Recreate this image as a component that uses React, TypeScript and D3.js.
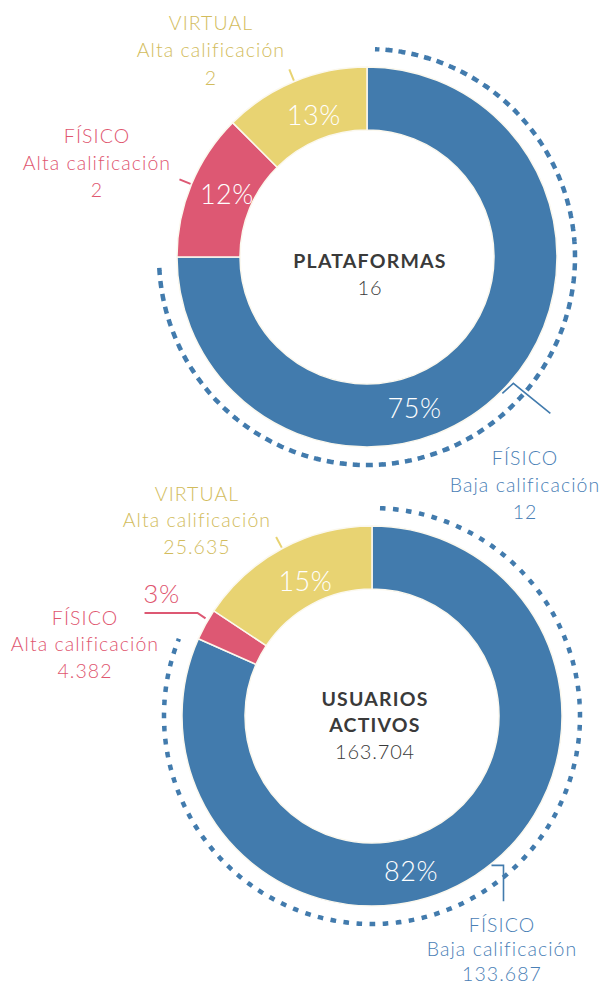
import React from "react";
import * as d3 from "d3";

// ---- data ----
const segmentTypes = ["FÍSICO", "FÍSICO", "VIRTUAL"];
const segmentQualifications = ["Baja calificación", "Alta calificación", "Alta calificación"];
const segmentColors = ["#427bad", "#dd5873", "#e8d372"];
const segmentTextColors = ["#4a80b6", "#e0566f", "#d2bc5c"];

const chartTitles = [["PLATAFORMAS"], ["USUARIOS", "ACTIVOS"]];
const platformValues = [12, 2, 2];
const platformPctLabels = ["75%", "12%", "13%"];
const userValues = [133687, 4382, 25635];
const userPctLabels = ["82%", "3%", "15%"];

const locale = d3.formatLocale({ decimal: ",", thousands: ".", grouping: [3], currency: ["", ""] });
const fmt = locale.format(",d");

// ---- layout ----
const W = 603;
const H = 983;
const OUTER = 190;
const INNER = 127;
const DOT_R = 208;
const FONT = "Lato, 'Open Sans', sans-serif";

type LabelLayout = { dx: number; dy: number; gap: number };
type ChartLayout = {
  cx: number;
  cy: number;
  values: number[];
  pct: string[];
  title: string[];
  titleY: number;
  labels: LabelLayout[];
  pctAngle: (number | null)[];
  pctRadius: number[];
  leaders: ([number, number][] | null)[];
  ticks: boolean[];
  outsidePct: ({ dx: number; dy: number } | null)[];
};

const charts: ChartLayout[] = [
  {
    cx: 367,
    cy: 257,
    values: platformValues,
    pct: platformPctLabels,
    title: chartTitles[0],
    titleY: 3,
    labels: [
      { dx: 158, dy: 200, gap: 27 },
      { dx: -270, dy: -122, gap: 27 },
      { dx: -156, dy: -235, gap: 27.5 },
    ],
    pctAngle: [162.5, null, null],
    pctRadius: [158, 154, 152],
    leaders: [[[1, 2], [12, -8], [49, 22]], null, null],
    ticks: [false, true, true],
    outsidePct: [null, null, null],
  },
  {
    cx: 372,
    cy: 716,
    values: userValues,
    pct: userPctLabels,
    title: chartTitles[1],
    titleY: -18,
    labels: [
      { dx: 130, dy: 208, gap: 24.5 },
      { dx: -287, dy: -99, gap: 26.5 },
      { dx: -175, dy: -223, gap: 26.5 },
    ],
    pctAngle: [165.8, null, null],
    pctRadius: [159, 154, 151],
    leaders: [[[16, -10], [28, -10], [28, 26]], [[0, -6], [-8, -11.5], [-61, -11.5]], null],
    ticks: [false, false, true],
    outsidePct: [null, { dx: 17, dy: -20 }, null],
  },
];

const polar = (cx: number, cy: number, r: number, a: number): [number, number] => [
  cx + r * Math.sin(a),
  cy - r * Math.cos(a),
];

function Donut({ c }: { c: ChartLayout }) {
  const pie = d3.pie<number>().sort(null).value((d) => d);
  const arcs = pie(c.values);
  const arc = d3.arc<d3.PieArcDatum<number>>().innerRadius(INNER).outerRadius(OUTER);
  const total = d3.sum(c.values);
  const blue = arcs[0];
  const pad = (2.2 * Math.PI) / 180;
  const dotArc = d3
    .arc<any>()
    .innerRadius(DOT_R)
    .outerRadius(DOT_R)
    .startAngle(blue.startAngle + pad)
    .endAngle(blue.endAngle - pad)({} as any) as string;

  return (
    <g>
      <g transform={`translate(${c.cx},${c.cy})`}>
        {arcs.map((a, i) => (
          <path key={i} d={arc(a) as string} fill={segmentColors[i]} stroke="#fbf8ee" strokeWidth={1.5} />
        ))}
        <path d={dotArc} fill="none" stroke={segmentColors[0]} strokeWidth={4.5} strokeDasharray="4.5 8.6" />
      </g>
      {arcs.map((a, i) => {
        const mid = (a.startAngle + a.endAngle) / 2;
        const els: React.ReactNode[] = [];
        if (!c.outsidePct[i]) {
          const ang = c.pctAngle[i] != null ? ((c.pctAngle[i] as number) * Math.PI) / 180 : mid + (2 * Math.PI) / 180;
          const [px, py] = polar(c.cx, c.cy, c.pctRadius[i], ang);
          els.push(
            <text key="p" x={px} y={py} textAnchor="middle" dominantBaseline="central" fill="#fff" fontSize={27} fontWeight={300} fontFamily={FONT} letterSpacing={0.5}>
              {c.pct[i]}
            </text>
          );
        }
        if (c.ticks[i]) {
          const [x1, y1] = polar(c.cx, c.cy, OUTER + 1, mid);
          const [x2, y2] = polar(c.cx, c.cy, OUTER + 13, mid);
          els.push(<line key="t" x1={x1} y1={y1} x2={x2} y2={y2} stroke={segmentColors[i]} strokeWidth={2} />);
        }
        const lead = c.leaders[i];
        let endPt: [number, number] | null = null;
        if (lead) {
          const [ax, ay] = polar(c.cx, c.cy, OUTER, mid);
          const pts = lead.map(([dx, dy]) => [ax + dx, ay + dy] as [number, number]);
          endPt = pts[pts.length - 1];
          els.push(
            <path key="l" d={d3.line()(pts) as string} fill="none" stroke={segmentColors[i]} strokeWidth={i === 1 ? 2 : 1.6} />
          );
        }
        const op = c.outsidePct[i];
        if (op && endPt) {
          els.push(
            <text key="op" x={endPt[0] + op.dx} y={endPt[1] + op.dy} textAnchor="middle" dominantBaseline="central" fill={segmentTextColors[i]} fontSize={26} fontWeight={300} fontFamily={FONT} letterSpacing={0.5}>
              {c.pct[i]}
            </text>
          );
        }
        const L = c.labels[i];
        const lx = c.cx + L.dx;
        const ly = c.cy + L.dy;
        const lines = [segmentTypes[i], segmentQualifications[i], fmt(c.values[i])];
        els.push(
          <text key="g" textAnchor="middle" fill={segmentTextColors[i]} fontSize={19.5} fontWeight={300} fontFamily={FONT} letterSpacing={1.05}>
            {lines.map((t, k) => (
              <tspan key={k} x={lx} y={ly + k * L.gap} dominantBaseline="central">
                {t}
              </tspan>
            ))}
          </text>
        );
        return <g key={i}>{els}</g>;
      })}
      <text textAnchor="middle" fontFamily={FONT} fill="#3a3a3a">
        {c.title.map((t, k) => (
          <tspan key={k} x={c.cx + 3} y={c.cy + c.titleY + k * 26} dominantBaseline="central" fontSize={19.5} fontWeight={700} letterSpacing={1.2}>
            {t}
          </tspan>
        ))}
        <tspan x={c.cx + 3} y={c.cy + c.titleY + c.title.length * 26 + 1} dominantBaseline="central" fontSize={20} fontWeight={300} letterSpacing={0.8}>
          {fmt(total)}
        </tspan>
      </text>
    </g>
  );
}

export default function App() {
  return (
    <svg width={W} height={H} style={{ position: "absolute", left: 0, top: 0, background: "#fff" }}>
      {charts.map((c, i) => (
        <Donut key={i} c={c} />
      ))}
    </svg>
  );
}
